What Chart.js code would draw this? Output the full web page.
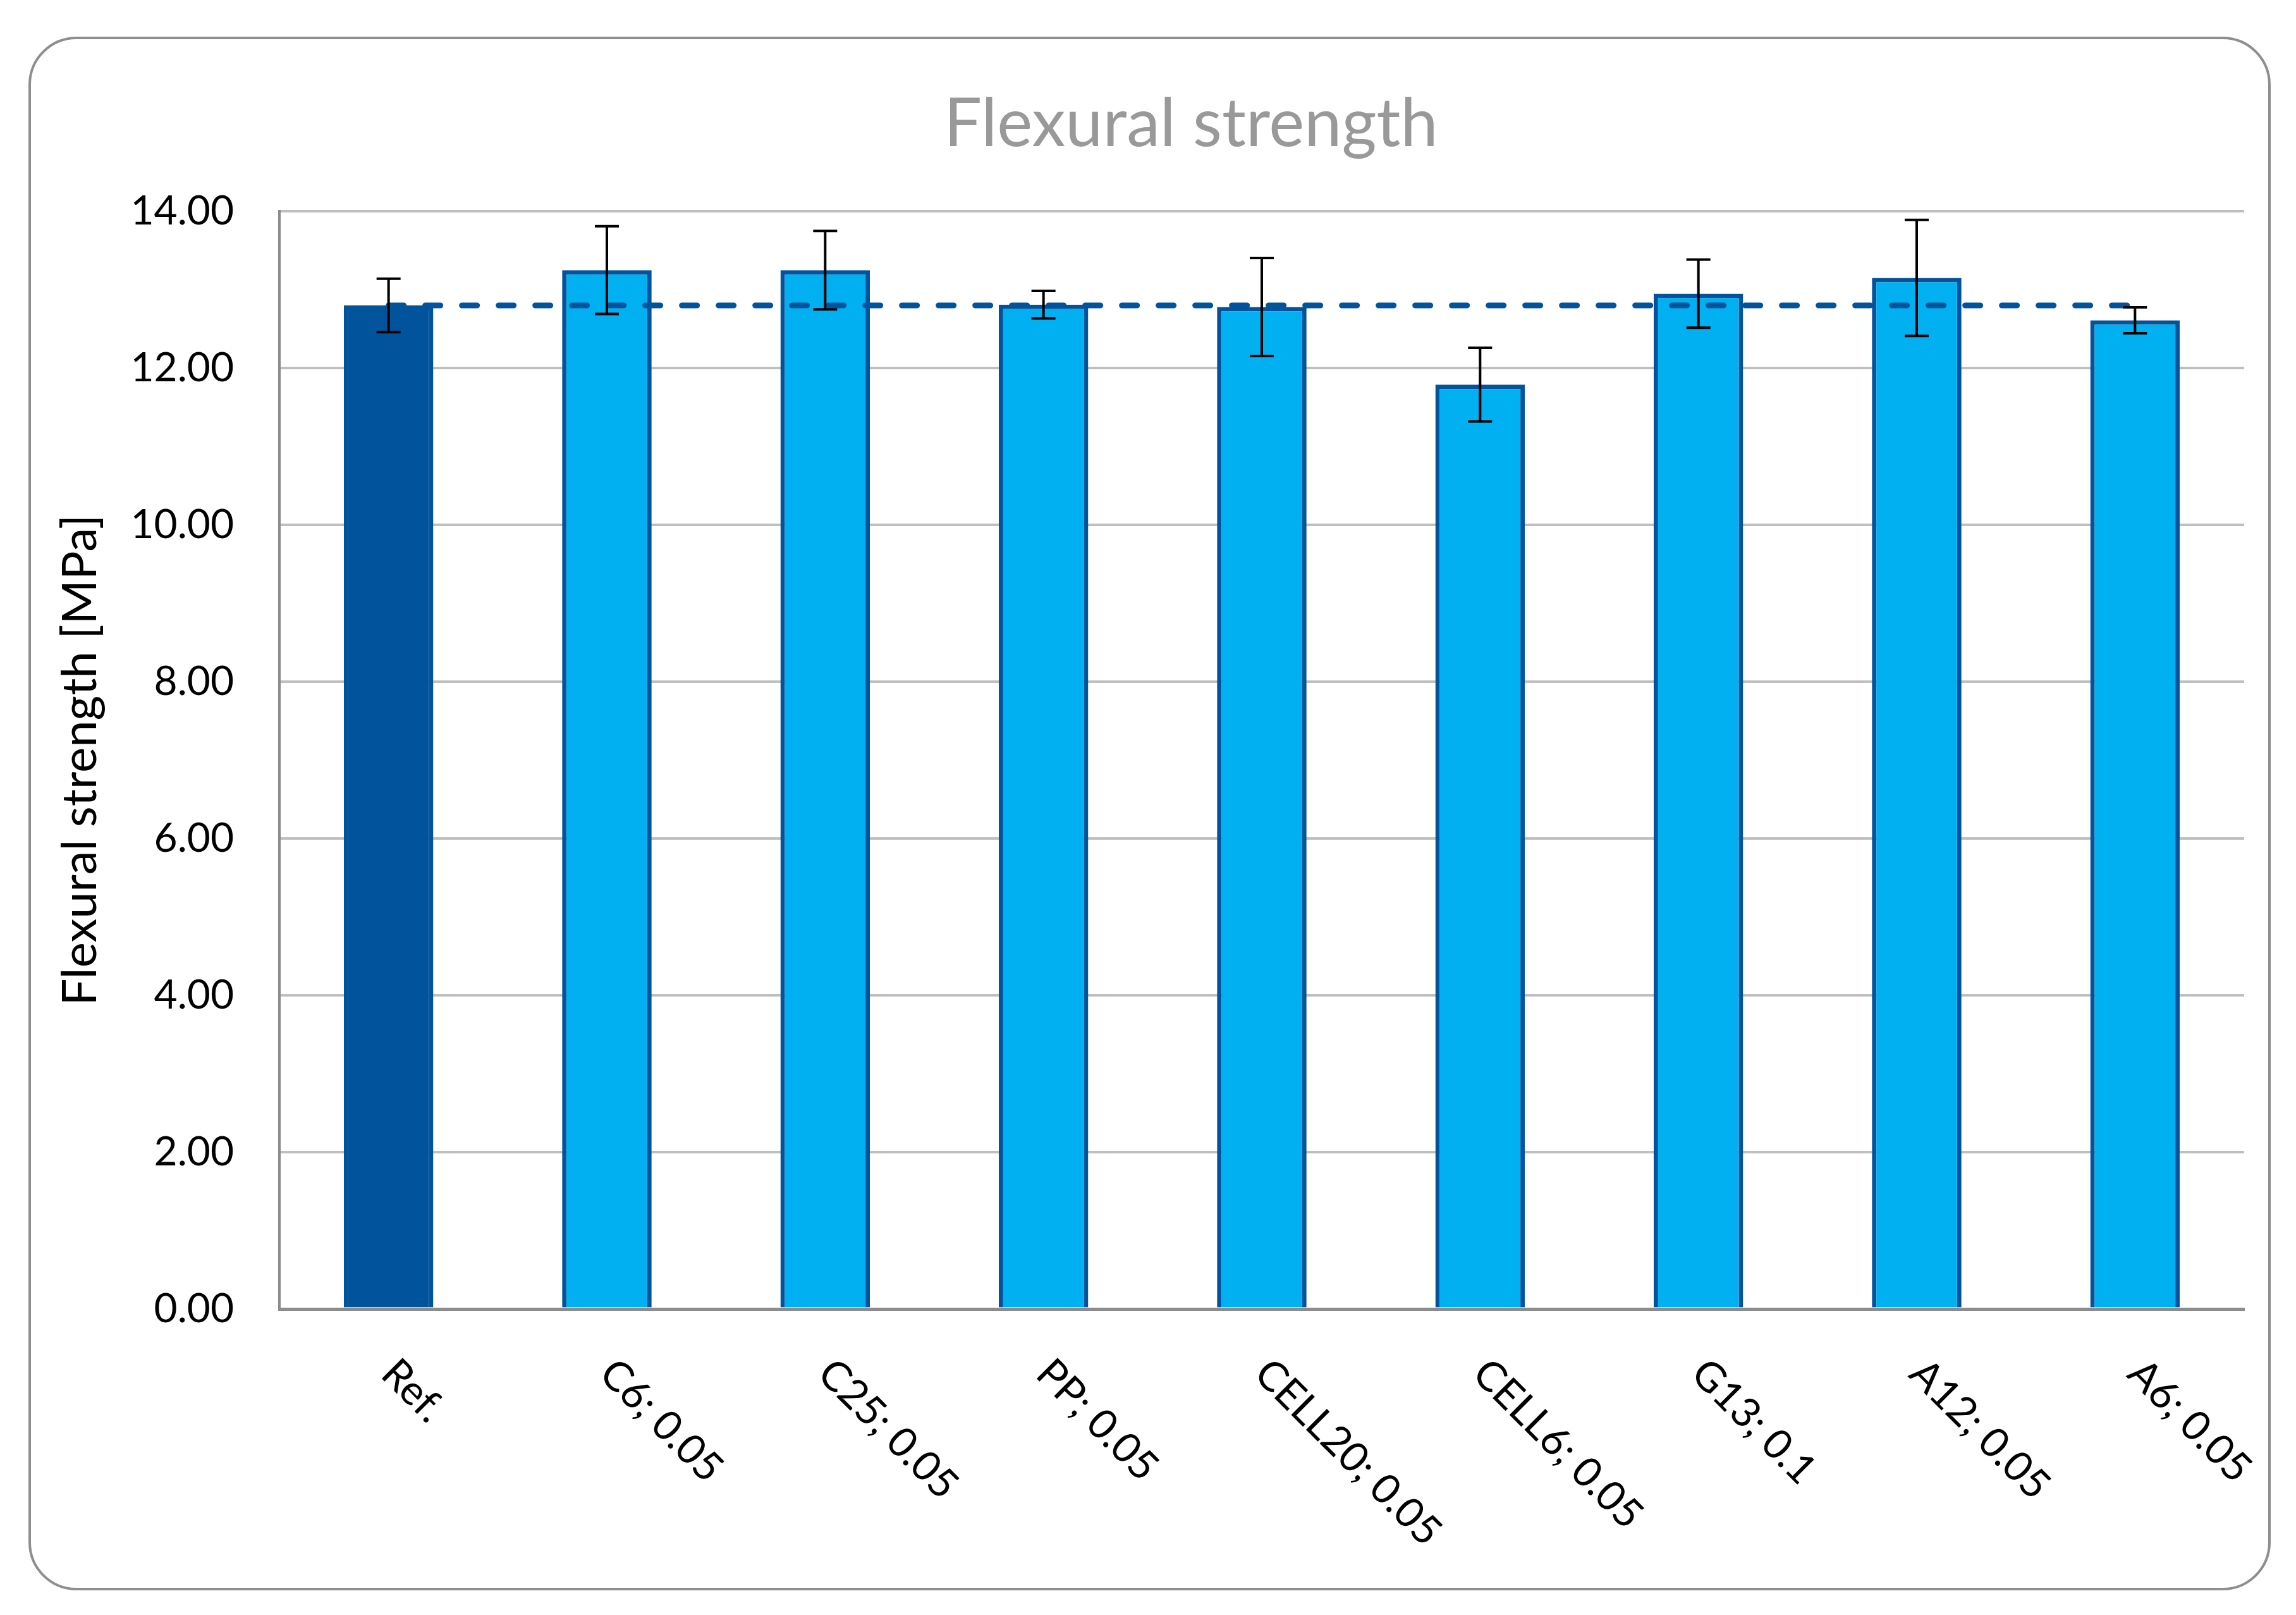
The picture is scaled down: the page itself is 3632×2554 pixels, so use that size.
<!DOCTYPE html>
<html>
<head>
<meta charset="utf-8">
<title>Flexural strength</title>
<script src="https://cdn.jsdelivr.net/npm/chart.js@4"></script>
<style>
    html, body { margin: 0; padding: 0; background: #fff; }
    canvas { display: block; }
</style>
</head>
<body>
<canvas id="flexChart" width="3632" height="2554"></canvas>
<script>
// chart data
const categories = ['Ref.', 'C6; 0.05', 'C25; 0.05', 'PP; 0.05', 'CELL20; 0.05', 'CELL6; 0.05', 'G13; 0.1', 'A12; 0.05', 'A6; 0.05'];
const strength = [12.80, 13.25, 13.25, 12.81, 12.78, 11.79, 12.95, 13.15, 12.61];
const strengthErr = [0.34, 0.56, 0.50, 0.175, 0.625, 0.47, 0.435, 0.74, 0.165];
const refLine = [12.8, 12.8, 12.8, 12.8, 12.8, 12.8, 12.8, 12.8, 12.8];
const yTicks = [0, 2, 4, 6, 8, 10, 12, 14];

const darkBlue = '#01549B';
const lightBlue = '#00B0F0';
const fontFamily = 'Lato, "Open Sans", sans-serif';

// white page + rounded grey frame
const framePlugin = {
    id: 'frame',
    beforeDraw(chart) {
        const ctx = chart.ctx;
        ctx.save();
        ctx.fillStyle = '#fff';
        ctx.fillRect(0, 0, chart.width, chart.height);
        ctx.strokeStyle = '#8e8e8e';
        ctx.lineWidth = 4;
        ctx.beginPath();
        ctx.roundRect(47, 60, 3543, 2453, 74);
        ctx.stroke();
        ctx.restore();
    }
};

// error bars from the values above, through the chart scales
const errorBarPlugin = {
    id: 'errorBars',
    afterDatasetsDraw(chart) {
        const ctx = chart.ctx;
        const yScale = chart.scales.y;
        const bars = chart.getDatasetMeta(1).data;
        ctx.save();
        ctx.strokeStyle = '#000';
        ctx.lineWidth = 4;
        bars.forEach((bar, i) => {
            const x = bar.x;
            const top = yScale.getPixelForValue(strength[i] + strengthErr[i]);
            const bottom = yScale.getPixelForValue(strength[i] - strengthErr[i]);
            ctx.beginPath();
            ctx.moveTo(x, top);
            ctx.lineTo(x, bottom);
            ctx.moveTo(x - 19, top);
            ctx.lineTo(x + 19, top);
            ctx.moveTo(x - 19, bottom);
            ctx.lineTo(x + 19, bottom);
            ctx.stroke();
        });
        ctx.restore();
    }
};

// category labels slanted down to the right, starting under each tick
const slantLabelPlugin = {
    id: 'slantLabels',
    afterDraw(chart) {
        const ctx = chart.ctx;
        const xScale = chart.scales.x;
        ctx.save();
        ctx.fillStyle = '#000';
        ctx.font = '65px ' + fontFamily;
        ctx.textAlign = 'left';
        ctx.textBaseline = 'alphabetic';
        categories.forEach((label, i) => {
            const x = xScale.getPixelForTick(i);
            ctx.save();
            ctx.translate(x - 15, chart.chartArea.bottom + 106);
            ctx.rotate(Math.PI / 4);
            ctx.fillText(label, 0, 0);
            ctx.restore();
        });
        ctx.restore();
    }
};

const ctx = document.getElementById('flexChart').getContext('2d');
const flexChart = new Chart(ctx, {
    type: 'bar',
    data: {
        labels: categories,
        datasets: [
            {
                type: 'line',
                label: 'Ref. level',
                data: refLine,
                borderColor: darkBlue,
                borderWidth: 9,
                borderDash: [24, 34],
                borderCapStyle: 'round',
                pointRadius: 0,
                fill: false,
                order: 1
            },
            {
                label: 'Flexural strength',
                data: strength,
                backgroundColor: categories.map((c, i) => i === 0 ? darkBlue : lightBlue),
                borderColor: darkBlue,
                borderWidth: 7,
                categoryPercentage: 1,
                barPercentage: 0.41,
                order: 2
            }
        ]
    },
    options: {
        responsive: false,
        maintainAspectRatio: false,
        devicePixelRatio: 1,
        animation: false,
        layout: {
            padding: { left: 136, right: 0, top: 133, bottom: 0 }
        },
        plugins: {
            legend: { display: false },
            tooltip: { enabled: false },
            title: {
                display: true,
                text: 'Flexural strength',
                color: '#999999',
                font: { family: fontFamily, size: 106, weight: 'normal', lineHeight: 1.2 },
                padding: { top: 0, bottom: 74 }
            }
        },
        scales: {
            x: {
                type: 'category',
                offset: true,
                grid: { display: false },
                border: { display: true, color: '#8c8c8c', width: 5 },
                ticks: { display: false },
                afterFit: scale => { scale.height = 484; }
            },
            y: {
                position: 'left',
                min: 0,
                max: 14,
                afterBuildTicks: scale => {
                    scale.ticks = yTicks.map(v => ({ value: v }));
                },
                ticks: {
                    color: '#000',
                    padding: 72,
                    font: { family: fontFamily, size: 64 },
                    callback: v => Number(v).toFixed(2)
                },
                grid: {
                    drawTicks: false,
                    color: c => c.tick && c.tick.value === 0 ? '#8c8c8c' : '#bfbfbf',
                    lineWidth: c => c.tick && c.tick.value === 0 ? 5 : 4
                },
                border: { display: true, color: '#8c8c8c', width: 4 },
                title: {
                    display: true,
                    text: 'Flexural strength [MPa]',
                    color: '#000',
                    font: { family: fontFamily, size: 76, lineHeight: 1.2 },
                    // axis box starts right of the frame edge, so pull the title back left
                    padding: { top: -54, bottom: 0 }
                },
                afterFit: scale => { scale.width = 306; }
            },
            // empty right-hand box that keeps the plot area clear of the frame
            y2: {
                position: 'right',
                display: true,
                grid: { display: false },
                border: { display: false },
                ticks: { display: false },
                afterFit: scale => { scale.width = 82; }
            }
        }
    },
    plugins: [framePlugin, errorBarPlugin, slantLabelPlugin]
});
</script>
</body>
</html>
